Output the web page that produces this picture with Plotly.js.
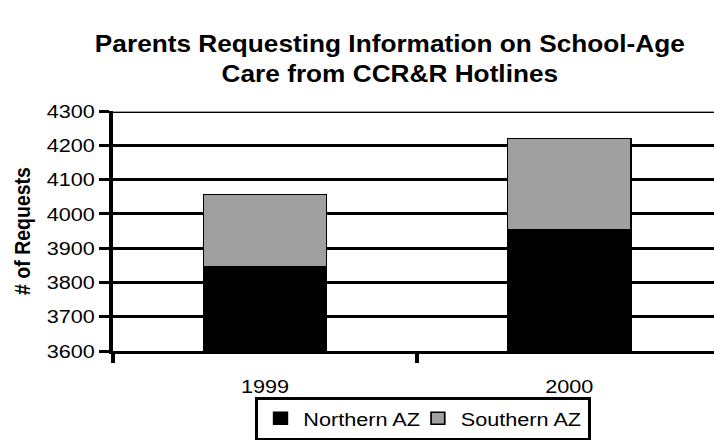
<!DOCTYPE html>
<html>
<head>
<meta charset="utf-8">
<script src="https://cdn.plot.ly/plotly-3.0.1.min.js"></script>
<style>
html,body{margin:0;padding:0;background:#fff;overflow:hidden;width:714px;height:440px;}
#chart{width:626px;height:440px;transform:scaleX(1.1406);transform-origin:0 0;}
</style>
</head>
<body>
<div id="chart"></div>
<script>
const years = ['1999', '2000'];
const northernAZ = [3845, 3954];
const southernAZ = [212, 266];
const yTicks = [3600, 3700, 3800, 3900, 4000, 4100, 4200, 4300];
const titleText = 'Parents Requesting Information on School-Age<br>Care from CCR&R Hotlines';

const font = 'Liberation Sans, Arial, sans-serif';

const traces = [
  {
    type: 'bar', name: 'Northern AZ', x: years, y: northernAZ,
    marker: {color: '#000000', line: {color: '#000000', width: 1.5}},
    width: 0.405, legendwidth: 93
  },
  {
    type: 'bar', name: 'Southern AZ', x: years, y: southernAZ,
    marker: {color: '#a0a0a0', line: {color: '#000000', width: 1.5}},
    width: 0.405
  }
];

const layout = {
  width: 626, height: 440,
  margin: {l: 99, r: 0, t: 111, b: 87},
  paper_bgcolor: '#ffffff', plot_bgcolor: '#ffffff',
  barmode: 'stack',
  font: {family: font, size: 19, color: '#000'},
  title: {
    text: '<b>' + titleText + '</b>',
    font: {family: font, size: 23, color: '#000'},
    x: 0.546, xanchor: 'center', xref: 'container',
    y: 0.882, yanchor: 'middle', yref: 'container'
  },
  xaxis: {
    type: 'category',
    range: [-0.5, 1.476],
    tickson: 'boundaries',
    ticks: 'outside', ticklen: 9, tickwidth: 3, tickcolor: '#000',
    ticklabelstandoff: 16,
    showline: true, linewidth: 3, linecolor: '#000',
    showgrid: false, zeroline: false,
    tickfont: {family: font, size: 19, color: '#000'}
  },
  yaxis: {
    range: [3600, 4300],
    tickvals: yTicks,
    ticktext: yTicks.map(String),
    ticks: 'outside', ticklen: 9, tickwidth: 3, tickcolor: '#000',
    showline: true, linewidth: 3, linecolor: '#000',
    showgrid: true, gridcolor: '#000', gridwidth: 3,
    zeroline: false,
    tickfont: {family: font, size: 19, color: '#000'},
    title: {text: '<b># of Requests</b>', font: {family: font, size: 19.5, color: '#000'}, standoff: 9}
  },
  showlegend: true,
  legend: {
    orientation: 'h', traceorder: 'normal',
    x: 0.516, xanchor: 'center', y: -0.194, yanchor: 'top',
    bordercolor: '#000', borderwidth: 2.5, bgcolor: '#fff',
    font: {family: font, size: 19, color: '#000'},
    itemwidth: 30
  },
  shapes: [
    {type: 'line', xref: 'paper', yref: 'y', x0: 0, x1: 1, y0: 4300, y1: 4300,
     line: {color: '#000', width: 4}},
    {type: 'line', xref: 'paper', yref: 'y', x0: 0, x1: 1, y0: 4300, y1: 4300,
     line: {color: '#a0a0a0', width: 2}},
    {type: 'line', xref: 'paper', yref: 'paper', x0: 0, x1: 0, y0: -0.04, y1: 0,
     line: {color: '#000', width: 3}}
  ]
};

Plotly.newPlot('chart', traces, layout, {displayModeBar: false, staticPlot: true});
</script>
</body>
</html>
